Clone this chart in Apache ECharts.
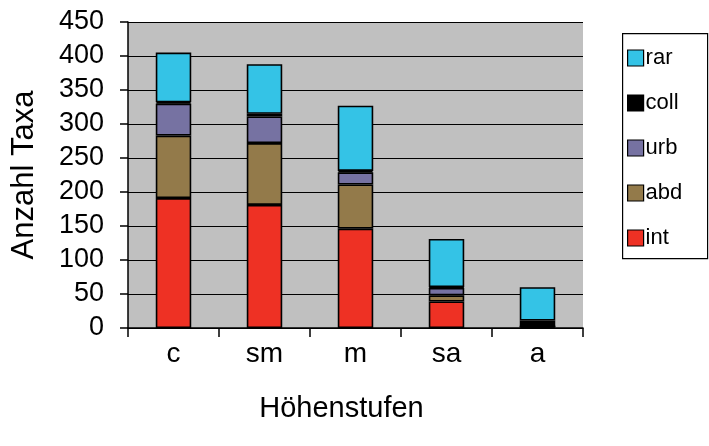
<!DOCTYPE html>
<html>
<head>
<meta charset="utf-8">
<script src="https://cdn.jsdelivr.net/npm/echarts@6/dist/echarts.min.js"></script>
<style>
html,body{margin:0;padding:0;background:#fff;}
#chart{width:709px;height:446px;}
</style>
</head>
<body>
<div id="chart"></div>
<script>
// Altitudinal belts
const categories = ['c', 'sm', 'm', 'sa', 'a'];
// Number of taxa per status group (stacked bottom to top)
const intVals  = [191, 181, 146, 39, 2];
const abdVals  = [92, 91, 65, 9, 0];
const urbVals  = [47, 39, 18, 11, 0];
const collVals = [2, 4, 2, 1, 9];
const rarVals  = [73, 73, 96, 71, 49];
const yTicks = [0, 50, 100, 150, 200, 250, 300, 350, 400, 450];
const legendOrder = ['rar', 'coll', 'urb', 'abd', 'int'];

const font = 'Liberation Sans, Arial, sans-serif';
const colors = {int:'#ee3124', abd:'#937a4a', urb:'#7672a2', coll:'#000000', rar:'#34c3e6'};

function bar(name, data) {
  return {
    name: name, type: 'bar', stack: 'total', data: data,
    barWidth: '39%',
    itemStyle: {color: colors[name], borderColor: '#000', borderWidth: 1.6},
    emphasis: {disabled: true}
  };
}

const chart = echarts.init(document.getElementById('chart'), null, {renderer: 'canvas'});
chart.setOption({
  animation: false,
  backgroundColor: '#fff',
  grid: {left: 128, right: 126, top: 22, bottom: 118, backgroundColor: '#c0c0c0', show: true, borderWidth: 0},
  // frame around the legend
  graphic: [{
    type: 'rect', left: 622, top: 33, z: 0,
    shape: {width: 85, height: 225},
    style: {fill: '#fff', stroke: '#000', lineWidth: 1.2}
  }],
  legend: {
    orient: 'vertical', left: 627, top: 47, z: 5,
    data: legendOrder,
    itemWidth: 16, itemHeight: 16, itemGap: 23,
    padding: 0,
    textStyle: {fontFamily: font, fontSize: 22, lineHeight: 22, color: '#000', padding: [0, 0, 0, -3]},
    icon: 'rect',
    itemStyle: {borderColor: '#000', borderWidth: 1.2}
  },
  xAxis: {
    type: 'category', data: categories,
    name: 'Höhenstufen', nameLocation: 'middle', nameGap: 66,
    nameTextStyle: {fontFamily: font, fontSize: 29, color: '#000', padding: [0, 28, 0, 0]},
    axisLine: {lineStyle: {color: '#000', width: 1.5}},
    axisTick: {show: true, length: 9, lineStyle: {color: '#000', width: 1.5}},
    axisLabel: {fontFamily: font, fontSize: 28, color: '#000', margin: 12},
    splitLine: {show: false}
  },
  yAxis: {
    type: 'value', min: yTicks[0], max: yTicks[yTicks.length - 1], interval: 50,
    name: 'Anzahl Taxa', nameLocation: 'middle', nameGap: 88, nameRotate: 90,
    nameTextStyle: {fontFamily: font, fontSize: 31, color: '#000'},
    axisLine: {show: true, lineStyle: {color: '#000', width: 1.5}},
    axisTick: {show: true, length: 8, lineStyle: {color: '#000', width: 1.5}},
    axisLabel: {fontFamily: font, fontSize: 27, color: '#000', margin: 24},
    splitLine: {show: true, lineStyle: {color: '#000', width: 1.2}}
  },
  series: [
    bar('int', intVals),
    bar('abd', abdVals),
    bar('urb', urbVals),
    bar('coll', collVals),
    bar('rar', rarVals)
  ]
});
</script>
</body>
</html>
